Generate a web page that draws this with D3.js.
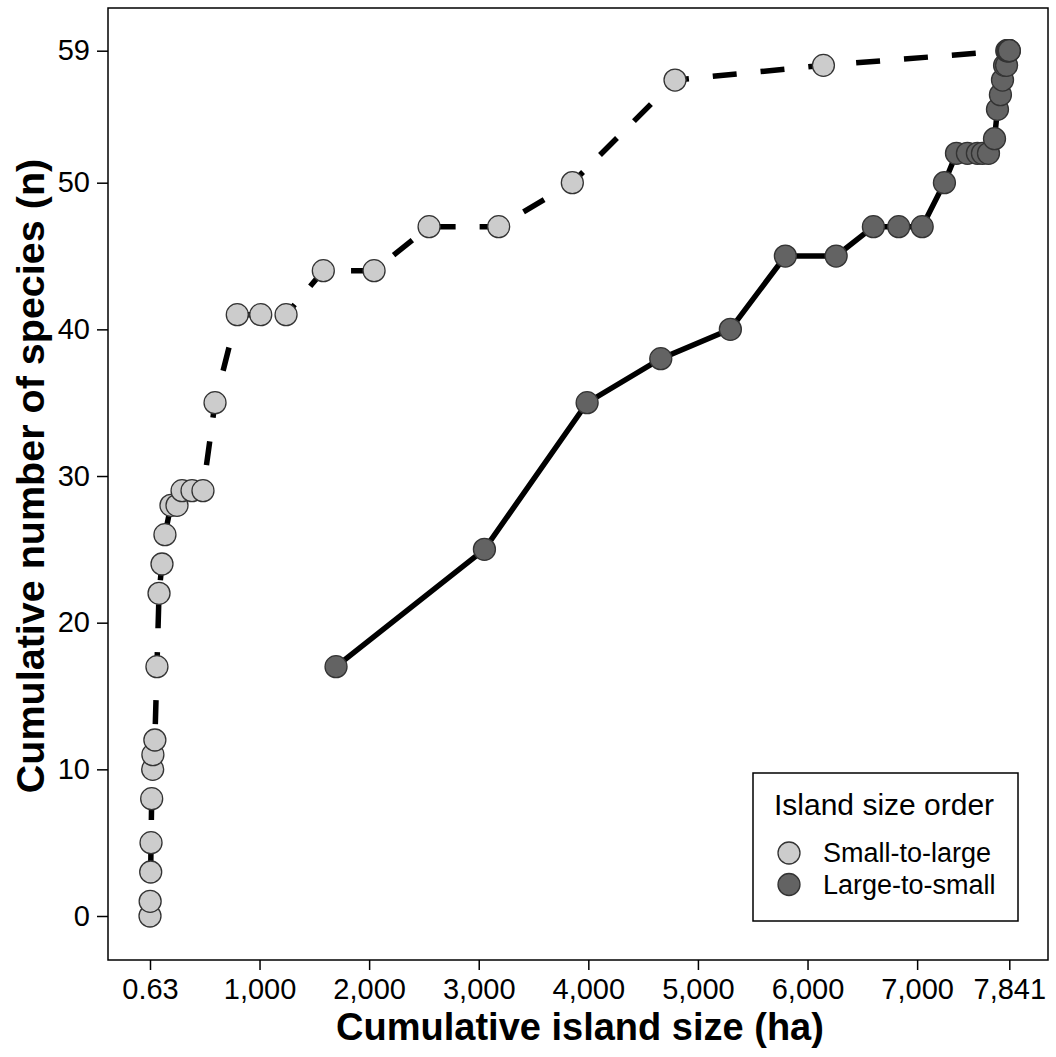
<!DOCTYPE html>
<html>
<head>
<meta charset="utf-8">
<script src="https://cdn.jsdelivr.net/npm/d3@7"></script>
<style>
  body { margin: 0; background: #fff; }
  text { font-family: "Liberation Sans", Arial, sans-serif; fill: #000; }
</style>
</head>
<body>
<div id="canvas"></div>
<script>
// data: cumulative island size (ha) vs cumulative species
var smallToLargeHa = [0.63, 2, 7, 10, 16, 25, 27, 45, 64, 83, 110, 137, 192, 247, 293, 384, 484, 594,
    797, 1011, 1242, 1582, 2045, 2547, 3182, 3854, 4791, 6145, 7841];
var smallToLargeN = [0, 1, 3, 5, 8, 10, 11, 12, 17, 22, 24, 26, 28, 28, 29, 29, 29, 35,
    41, 41, 41, 44, 44, 47, 47, 50, 57, 58, 59];

var largeToSmallHa = [1698, 3052, 3989, 4661, 5296, 5798, 6261, 6601, 6832, 7046, 7249, 7359, 7459,
    7550, 7596, 7651, 7706, 7733, 7760, 7779, 7798, 7816, 7818, 7827, 7833, 7836, 7841];
var largeToSmallN = [17, 25, 35, 38, 40, 45, 45, 47, 47, 47, 50, 52, 52,
    52, 52, 52, 53, 55, 56, 57, 58, 58, 59, 59, 59, 59, 59];

var xTicks = [0.63, 1000, 2000, 3000, 4000, 5000, 6000, 7000, 7841];
var yTicks = [0, 10, 20, 30, 40, 50, 59];

var seriesNames = ['Small-to-large', 'Large-to-small'];
var seriesFill = ['#cccccc', '#636363'];

var outerWidth = 1056, outerHeight = 1057;
// plot panel box
var p = {l:108, r:1048, t:8, b:960};

var svg = d3.select('#canvas')
    .append('svg')
    .attr('width', outerWidth)
    .attr('height', outerHeight);

var scaleX = d3.scaleLinear()
    .domain([0.63, 7841])
    .range([150, 1009.3]);
var scaleY = d3.scaleLinear()
    .domain([0, 59])
    .range([916, 50.7]);

function zip(xs, ys){
    return xs.map(function(x, i){ return {x: x, y: ys[i]}; });
}
var s2l = zip(smallToLargeHa, smallToLargeN),
    l2s = zip(largeToSmallHa, largeToSmallN);

var line = d3.line()
    .x(function(d){ return scaleX(d.x); })
    .y(function(d){ return scaleY(d.y); });

// lines first
svg.append('path')
    .datum(s2l)
    .attr('d', line)
    .attr('fill', 'none')
    .attr('stroke', '#000')
    .attr('stroke-width', 5.5)
    .attr('stroke-dasharray', '24,24');

svg.append('path')
    .datum(l2s)
    .attr('d', line)
    .attr('fill', 'none')
    .attr('stroke', '#000')
    .attr('stroke-width', 5.5);

// points
[s2l, l2s].forEach(function(rows, k){
    svg.append('g')
        .selectAll('circle')
        .data(rows)
        .enter()
        .append('circle')
        .attr('cx', function(d){ return scaleX(d.x); })
        .attr('cy', function(d){ return scaleY(d.y); })
        .attr('r', 11)
        .attr('fill', seriesFill[k])
        .attr('stroke', '#333')
        .attr('stroke-width', 1.3);
});

// panel border
svg.append('rect')
    .attr('x', p.l)
    .attr('y', p.t)
    .attr('width', p.r - p.l)
    .attr('height', p.b - p.t)
    .attr('fill', 'none')
    .attr('stroke', '#000')
    .attr('stroke-width', 1.5);

// axes
var axisX = d3.axisBottom(scaleX)
    .tickValues(xTicks)
    .tickSize(10)
    .tickPadding(8)
    .tickFormat(function(d){ return d < 1 ? '0.63' : d3.format(',')(d); });

var gx = svg.append('g')
    .attr('transform', 'translate(0,' + p.b + ')')
    .call(axisX);
gx.select('.domain').remove();
gx.selectAll('line').attr('stroke-width', 1.5);
gx.selectAll('text').style('font-size', '29px').attr('dy', '0.72em');

var axisY = d3.axisLeft(scaleY)
    .tickValues(yTicks)
    .tickSize(11)
    .tickPadding(7);

var gy = svg.append('g')
    .attr('transform', 'translate(' + p.l + ',0)')
    .call(axisY);
gy.select('.domain').remove();
gy.selectAll('line').attr('stroke-width', 1.5);
gy.selectAll('text').style('font-size', '29px');

// axis titles
svg.append('text')
    .attr('x', 580)
    .attr('y', 1040)
    .attr('text-anchor', 'middle')
    .style('font-size', '38px')
    .style('font-weight', 'bold')
    .text('Cumulative island size (ha)');

svg.append('text')
    .attr('transform', 'translate(44,476) rotate(-90)')
    .attr('text-anchor', 'middle')
    .style('font-size', '39.5px')
    .style('font-weight', 'bold')
    .text('Cumulative number of species (n)');

// legend
var lg = svg.append('g').attr('class', 'legend');
lg.append('rect')
    .attr('x', 753)
    .attr('y', 773)
    .attr('width', 265)
    .attr('height', 148)
    .attr('fill', '#fff')
    .attr('stroke', '#000')
    .attr('stroke-width', 1.5);
lg.append('text')
    .attr('x', 774)
    .attr('y', 815)
    .style('font-size', '30px')
    .text('Island size order');

seriesNames.forEach(function(name, i){
    var cy = 853 + i * 31.5;
    lg.append('circle')
        .attr('cx', 789)
        .attr('cy', cy)
        .attr('r', 11)
        .attr('fill', seriesFill[i])
        .attr('stroke', '#333')
        .attr('stroke-width', 1.3);
    lg.append('text')
        .attr('x', 823)
        .attr('y', cy + 9)
        .style('font-size', '27px')
        .text(name);
});
</script>
</body>
</html>
